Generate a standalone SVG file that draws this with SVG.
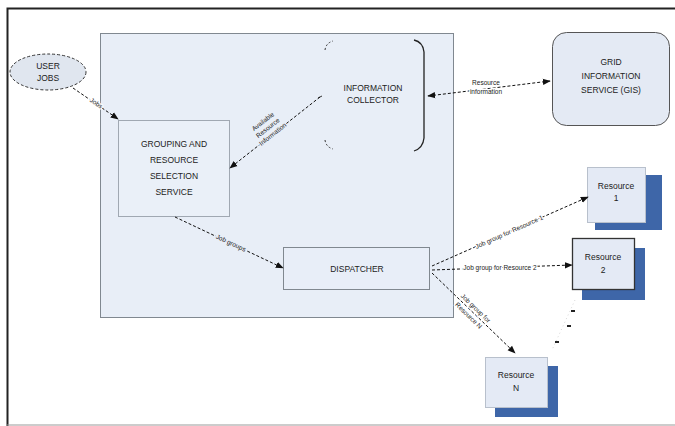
<svg xmlns="http://www.w3.org/2000/svg" width="675" height="426" viewBox="0 0 675 426">
<style>
text{font-family:"Liberation Sans",Arial,sans-serif;fill:#222}
.n{font-size:8.5px;text-anchor:middle}
.l{font-size:6.5px;text-anchor:middle;paint-order:stroke;stroke-width:2.5px;stroke-linejoin:round}
.w{stroke:#fff}
.b{stroke:#e8eef7}
.c{fill:none;stroke:#111;stroke-width:1;stroke-dasharray:3 2}
.sh{fill:#3e66a8}
.res{fill:#e4eaf5;stroke:#b8c0cc;stroke-width:1}
</style>
<defs>
<marker id="ah" viewBox="0 0 10 10" refX="9" refY="5" markerWidth="8" markerHeight="8" orient="auto-start-reverse" markerUnits="userSpaceOnUse">
<path d="M0,1 L10,5 L0,9 z" fill="#111"/>
</marker>
</defs>
<rect x="0" y="0" width="675" height="426" fill="#fff"/>
<path d="M7.5,426 V8.5 H675" fill="none" stroke="#222" stroke-width="2"/>
<line x1="7" y1="425" x2="675" y2="425" stroke="#999" stroke-width="1"/>
<g id="container">
<rect x="100.5" y="33.5" width="353" height="284" fill="#e8eef7" stroke="#808890" stroke-width="1"/>
</g>
<g id="userjobs">
<ellipse cx="48" cy="72" rx="38" ry="18" fill="#e0e6ef" stroke="#333" stroke-width="1" stroke-dasharray="3 2"/>
<text class="n" x="48" y="69">USER</text>
<text class="n" x="48" y="81">JOBS</text>
</g>
<g id="grouping">
<rect x="118.5" y="120.5" width="111" height="96" fill="#eaf0f8" stroke="#a0a8b2" stroke-width="1"/>
<text class="n" x="174" y="147">GROUPING AND</text>
<text class="n" x="174" y="163">RESOURCE</text>
<text class="n" x="174" y="179">SELECTION</text>
<text class="n" x="174" y="195">SERVICE</text>
</g>
<g id="collector">
<path d="M325,50 Q326,43 333,41" fill="none" stroke="#333" stroke-width="1" stroke-dasharray="2 2"/>
<path d="M325,140 Q326,147 333,149" fill="none" stroke="#333" stroke-width="1" stroke-dasharray="2 2"/>
<path d="M318,98 L322,96" fill="none" stroke="#333" stroke-width="1"/>
<path d="M414,40 Q423,42 424,52 V138 Q423,148 414,151" fill="none" stroke="#222" stroke-width="1.3"/>
<text class="n" x="373" y="91">INFORMATION</text>
<text class="n" x="373" y="103">COLLECTOR</text>
</g>
<g id="gis">
<rect x="552.5" y="32.5" width="117" height="93" rx="14" fill="#e4eaf4" stroke="#555" stroke-width="1"/>
<text class="n" x="611" y="65">GRID</text>
<text class="n" x="611" y="79">INFORMATION</text>
<text class="n" x="611" y="93">SERVICE (GIS)</text>
</g>
<g id="dispatcher">
<rect x="283.5" y="247.5" width="146" height="42" fill="#e8eef8" stroke="#808890" stroke-width="1"/>
<text class="n" x="357" y="272">DISPATCHER</text>
</g>
<g id="resource1">
<rect class="sh" x="595" y="175" width="67" height="55"/>
<rect class="res" x="587.5" y="167.5" width="58" height="55"/>
<text class="n" x="616" y="189">Resource</text>
<text class="n" x="616" y="201">1</text>
</g>
<g id="resource2">
<rect class="sh" x="582" y="248" width="63" height="52"/>
<rect x="572.5" y="238.5" width="62" height="51" fill="#e4eaf5" stroke="#333" stroke-width="1.3"/>
<text class="n" x="603" y="260">Resource</text>
<text class="n" x="603" y="273">2</text>
</g>
<g id="resourceN">
<rect class="sh" x="495" y="366" width="63" height="51"/>
<rect class="res" x="485.5" y="357.5" width="62" height="50"/>
<text class="n" x="516" y="378">Resource</text>
<text class="n" x="516" y="391">N</text>
</g>
<g id="connectors">
<line class="c" x1="73" y1="88" x2="118" y2="119" marker-end="url(#ah)"/>
<text class="l w" transform="translate(95,105) rotate(34)">Jobs</text>
<line class="c" x1="320" y1="97" x2="230" y2="168" marker-end="url(#ah)"/>
<g transform="translate(268,128) rotate(-38)">
<text class="l b" x="0" y="-6">Available</text>
<text class="l b" x="0" y="2">Resource</text>
<text class="l b" x="0" y="10">Information</text>
</g>
<line class="c" x1="428" y1="96" x2="550" y2="81" marker-start="url(#ah)" marker-end="url(#ah)"/>
<text class="l w" x="486" y="85">Resource</text>
<text class="l w" x="486" y="94">information</text>
<line class="c" x1="175" y1="217" x2="283" y2="268" marker-end="url(#ah)"/>
<text class="l b" transform="translate(230,245) rotate(25)">Job groups</text>
<line class="c" x1="432" y1="266" x2="588" y2="197" marker-end="url(#ah)"/>
<text class="l w" transform="translate(510,234) rotate(-24)">Job group for Resource 1</text>
<line class="c" x1="432" y1="270" x2="572" y2="265" marker-end="url(#ah)"/>
<text class="l w" x="500" y="270">Job group for Resource 2</text>
<line class="c" x1="432" y1="273" x2="515" y2="353" marker-end="url(#ah)"/>
<g transform="translate(472,312) rotate(44)">
<text class="l w" x="0" y="-3">Job group for</text>
<text class="l w" x="0" y="7">Resource N</text>
</g>
<g fill="#222">
<rect x="571" y="310" width="4" height="2"/>
<rect x="567" y="325" width="4" height="2"/>
<rect x="555" y="341" width="4" height="2"/>
</g>
<line x1="575" y1="300" x2="552" y2="350" stroke="#bbb" stroke-width="0.6" stroke-dasharray="1 3"/>
</g>
</svg>
